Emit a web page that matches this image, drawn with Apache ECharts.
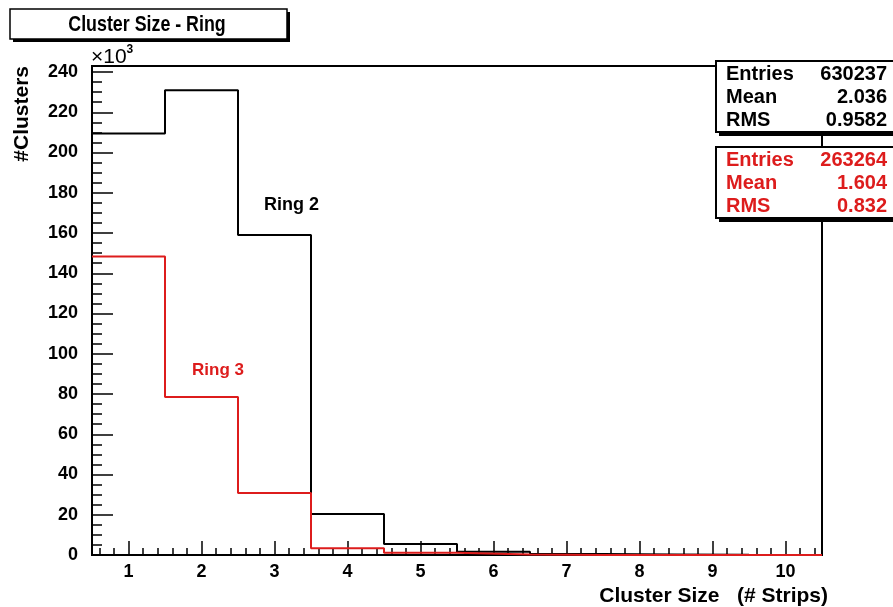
<!DOCTYPE html>
<html>
<head>
<meta charset="utf-8">
<script src="https://cdn.jsdelivr.net/npm/echarts@6/dist/echarts.min.js"></script>
<style>html,body{margin:0;padding:0;background:#fff;}#c{width:893px;height:607px;}</style>
</head>
<body>
<div id="c"></div>
<script>
// ---- data (values in units of 10^3 clusters) ----
const categories = [1, 2, 3, 4, 5, 6, 7, 8, 9, 10];
const ring2 = [209.5, 231.0, 159.0, 20.4, 5.5, 1.6, 0.5, 0.3, 0.1, 0.0];
const ring3 = [148.3, 78.5, 30.8, 3.3, 1.1, 0.3, 0.0, 0.0, 0.0, 0.0];
const yTicks = [0, 20, 40, 60, 80, 100, 120, 140, 160, 180, 200, 220, 240];
const xTickLabels = ['1', '2', '3', '4', '5', '6', '7', '8', '9', '10'];
const stats2 = [['Entries', '630237'], ['Mean', '2.036'], ['RMS', '0.9582']];
const stats3 = [['Entries', '263264'], ['Mean', '1.604'], ['RMS', '0.832']];

const FONT = '"Liberation Sans", Arial, sans-serif';
const RED = '#dd1c1c';

function histPoints(vals) {
  const pts = vals.map((v, i) => [categories[i] - 0.5, v]);
  pts.push([categories[categories.length - 1] + 0.5, vals[vals.length - 1]]);
  pts.push([categories[categories.length - 1] + 0.5, 0]);
  return pts;
}
// minor tick slots: 5 per unit bin (ticks at centres → every 0.2)
const minorSlots = [];
for (let i = 0; i < categories.length * 5; i++) minorSlots.push('m' + i);

const chart = echarts.init(document.getElementById('c'), null, {renderer: 'canvas'});

function statBox(y, rows, color) {
  const els = [
    {type: 'rect', shape: {x: 719, y: y + 4, width: 200, height: 71}, style: {fill: '#000'}, z: 100},
    {type: 'rect', shape: {x: 716, y: y, width: 200, height: 71}, style: {fill: '#fff', stroke: '#000', lineWidth: 2}, z: 101}
  ];
  rows.forEach((r, i) => {
    const cy = y + 13 + i * 23.4;
    els.push({type: 'text', x: 726, y: cy, z: 102,
      style: {text: r[0], fill: color, font: 'bold 20px ' + FONT, textAlign: 'left', textVerticalAlign: 'middle'}});
    els.push({type: 'text', x: 887, y: cy, z: 102,
      style: {text: r[1], fill: color, font: 'bold 20px ' + FONT, textAlign: 'right', textVerticalAlign: 'middle'}});
  });
  return els;
}

const option = {
  animation: false,
  backgroundColor: '#fff',
  grid: {left: 92, right: 71, top: 66, bottom: 52, show: true, borderColor: '#000', borderWidth: 2, backgroundColor: '#fff', containLabel: false},
  xAxis: [
    {type: 'value', min: 0.5, max: 10.5, show: false},
    {type: 'category', data: xTickLabels, boundaryGap: true, position: 'bottom',
      axisLine: {show: true, onZero: false, lineStyle: {color: '#000', width: 2}},
      axisTick: {show: true, inside: true, alignWithLabel: true, length: 14, lineStyle: {color: '#000', width: 1.5}},
      axisLabel: {show: true, interval: 0, margin: 8, color: '#000', fontWeight: 'bold', fontSize: 18, fontFamily: FONT},
      splitLine: {show: false}},
    {type: 'category', data: minorSlots, boundaryGap: true, position: 'bottom',
      axisLine: {show: false},
      axisTick: {show: true, inside: true, alignWithLabel: true, interval: 0, length: 7, lineStyle: {color: '#000', width: 1.5}},
      axisLabel: {show: false}, splitLine: {show: false}}
  ],
  yAxis: [
    {type: 'value', min: 0, max: 243, interval: 20,
      axisLine: {show: true, onZero: false, lineStyle: {color: '#000', width: 2}},
      axisTick: {show: true, inside: true, length: 21, lineStyle: {color: '#000', width: 1.5}},
      axisLabel: {show: true, margin: 14, color: '#000', fontWeight: 'bold', fontSize: 18, fontFamily: FONT,
        showMaxLabel: false,
        formatter: v => (yTicks.indexOf(v) >= 0 ? String(v) : '')},
      splitLine: {show: false}},
    {type: 'value', min: 0, max: 243, interval: 5, position: 'left',
      axisLine: {show: false},
      axisTick: {show: true, inside: true, length: 10, lineStyle: {color: '#000', width: 1.5}},
      axisLabel: {show: false}, splitLine: {show: false}}
  ],
  series: [
    {name: 'Ring 2', type: 'line', step: 'end', xAxisIndex: 0, yAxisIndex: 0, data: histPoints(ring2), showSymbol: false, symbol: 'none',
      lineStyle: {color: '#000', width: 2}, z: 3},
    {name: 'Ring 3', type: 'line', step: 'end', xAxisIndex: 0, yAxisIndex: 0, data: histPoints(ring3), showSymbol: false, symbol: 'none',
      lineStyle: {color: RED, width: 2}, z: 4}
  ],
  graphic: [
    // title box
    {type: 'rect', shape: {x: 13, y: 12, width: 277, height: 30}, style: {fill: '#000'}, z: 100},
    {type: 'rect', shape: {x: 10, y: 9, width: 277, height: 30}, style: {fill: '#fff', stroke: '#000', lineWidth: 1.5}, z: 101},
    {type: 'text', x: 147, y: 25, scaleX: 0.81, z: 102,
      style: {text: 'Cluster Size - Ring', fill: '#000', font: 'bold 22px ' + FONT, textAlign: 'center', textVerticalAlign: 'middle'}},
    // x10^3
    {type: 'text', x: 91, y: 57, z: 102,
      style: {text: '{a|×10}{b|3}', textVerticalAlign: 'middle', textAlign: 'left',
        rich: {a: {fontSize: 21, fontFamily: FONT, color: '#000'},
               b: {fontSize: 12, fontFamily: FONT, fontWeight: 'bold', color: '#000', verticalAlign: 'top', padding: [0, 0, 14, 0]}}}},
    // axis titles
    {type: 'text', x: 22, y: 66, rotation: Math.PI / 2, z: 102,
      style: {text: '#Clusters', fill: '#000', font: 'bold 21px ' + FONT, textAlign: 'right', textVerticalAlign: 'middle'}},
    {type: 'text', x: 828, y: 596, z: 102,
      style: {text: 'Cluster Size   (# Strips)', fill: '#000', font: 'bold 21px ' + FONT, textAlign: 'right', textVerticalAlign: 'middle'}},
    // ring labels
    {type: 'text', x: 264, y: 205, z: 102,
      style: {text: 'Ring 2', fill: '#000', font: 'bold 18px ' + FONT, textAlign: 'left', textVerticalAlign: 'middle'}},
    {type: 'text', x: 192, y: 370, z: 102,
      style: {text: 'Ring 3', fill: RED, font: 'bold 17px ' + FONT, textAlign: 'left', textVerticalAlign: 'middle'}}
  ].concat(statBox(61, stats2, '#000')).concat(statBox(147, stats3, RED))
};
chart.setOption(option);
</script>
</body>
</html>
